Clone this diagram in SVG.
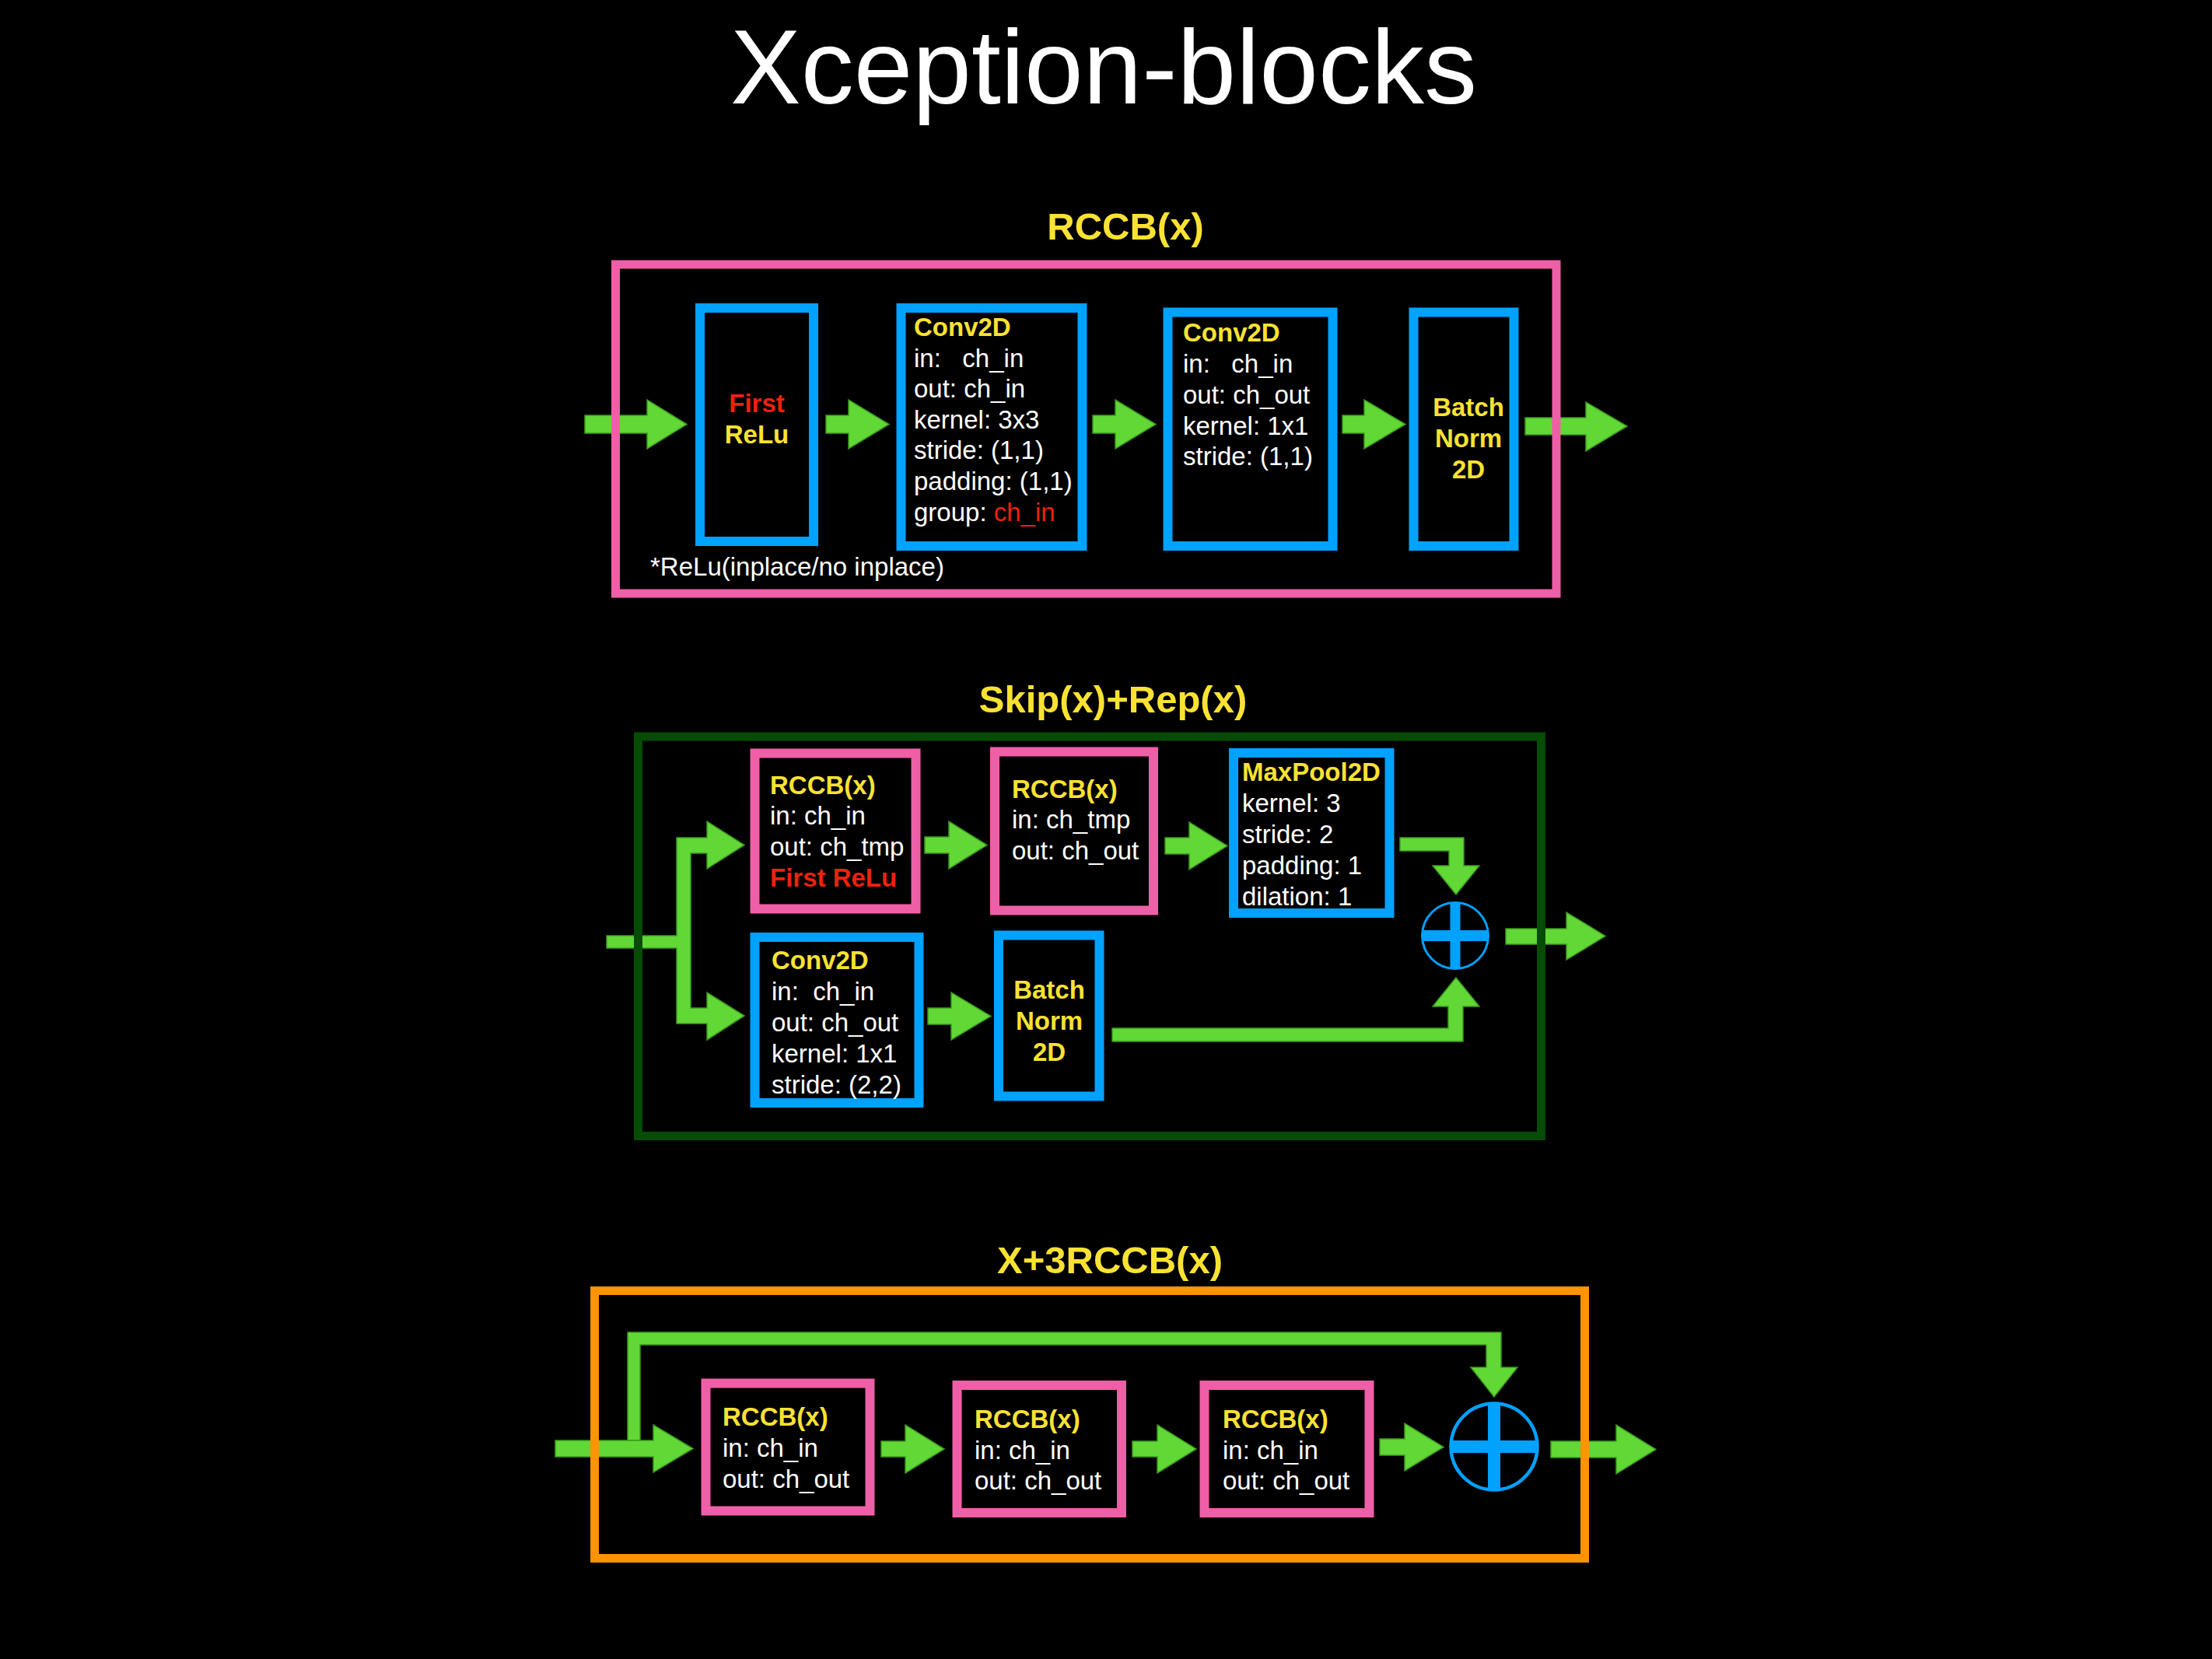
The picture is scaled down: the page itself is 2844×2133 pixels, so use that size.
<svg xmlns="http://www.w3.org/2000/svg" width="2844" height="2133" viewBox="0 0 2844 2133">
<style>
text{font-family:"Liberation Sans",Arial,Helvetica,sans-serif;}
.title{font-size:136px;fill:#ffffff;text-anchor:middle;}
.sec{font-size:49px;font-weight:bold;fill:#fae232;text-anchor:middle;}
.hd{font-size:33px;font-weight:bold;fill:#fae232;}
.hdc{font-size:33px;font-weight:bold;fill:#fae232;text-anchor:middle;}
.t{font-size:33px;fill:#ffffff;}
.red{fill:#ee220c;}
.rb{font-size:33px;font-weight:bold;fill:#ee220c;}
.arr{fill:#61d836;stroke:#3c9a1e;stroke-width:1.5;stroke-linejoin:miter;}
.blue{fill:none;stroke:#00a2ff;stroke-width:12;}
.pink{fill:none;stroke:#ef5fa7;stroke-width:12;}
.cont1{fill:none;stroke:#ef5fa7;stroke-width:11;}
.cont2{fill:none;stroke:#064c06;stroke-width:11;}
.cont3{fill:none;stroke:#ff9300;stroke-width:11;}
.plus{fill:#00a2ff;}
</style>
<rect width="2844" height="2133" fill="#000000"/>
<text class="title" x="1419" y="133">Xception-blocks</text>
<text class="sec" x="1447" y="308">RCCB(x)</text>
<text class="sec" x="1431" y="916">Skip(x)+Rep(x)</text>
<text class="sec" x="1427" y="1637">X+3RCCB(x)</text>

<g id="connectors">
  <!-- section 1 -->
  <polygon class="arr" points="752,534 832,534 832,514 883,545.5 832,577 832,557 752,557"/>
  <polygon class="arr" points="1062,534 1091,534 1091,514 1143,545.5 1091,577 1091,557 1062,557"/>
  <polygon class="arr" points="1405,534 1434,534 1434,514 1486,545.5 1434,577 1434,557 1405,557"/>
  <polygon class="arr" points="1726,534 1754,534 1754,514 1807,545.5 1754,577 1754,557 1726,557"/>
  <polygon class="arr" points="1961,537 2039,537 2039,517 2092,548 2039,580 2039,559 1961,559"/>
  <!-- section 2 -->
  <polygon class="arr" points="780,1203 870,1203 870,1077 909,1077 909,1056 957,1086.5 909,1117 909,1097 888,1097 888,1296 909,1296 909,1276 957,1306 909,1337 909,1316 870,1316 870,1219 780,1219"/>
  <polygon class="arr" points="1189,1076 1220,1076 1220,1056 1269,1086.5 1220,1117 1220,1097 1189,1097"/>
  <polygon class="arr" points="1498,1077 1529,1077 1529,1057 1578,1087.5 1529,1118 1529,1098 1498,1098"/>
  <polygon class="arr" points="1193,1296 1223,1296 1223,1276 1274,1306.5 1223,1337 1223,1317 1193,1317"/>
  <polygon class="arr" points="1800,1077 1882,1077 1882,1113 1902,1113 1872,1150 1842,1113 1863,1113 1863,1094 1800,1094"/>
  <polygon class="arr" points="1430,1322 1862,1322 1862,1294 1842,1294 1872,1257 1902,1294 1881,1294 1881,1339 1430,1339"/>
  <polygon class="arr" points="1936,1194 2014,1194 2014,1173 2064,1203.5 2014,1234 2014,1214 1936,1214"/>
  <!-- section 3 -->
  <polygon class="arr" points="807,1852 807,1713 1930,1713 1930,1758 1951,1758 1921,1796 1891,1758 1911,1758 1911,1729 823,1729 823,1852"/>
  <polygon class="arr" points="714,1852 840,1852 840,1832 891,1862.5 840,1893 840,1873 714,1873"/>
  <polygon class="arr" points="1133,1853 1164,1853 1164,1832 1214,1863 1164,1894 1164,1873 1133,1873"/>
  <polygon class="arr" points="1456,1853 1488,1853 1488,1832 1538,1863 1488,1894 1488,1873 1456,1873"/>
  <polygon class="arr" points="1774,1850 1806,1850 1806,1830 1856,1860.5 1806,1891 1806,1871 1774,1871"/>
  <polygon class="arr" points="1994,1853 2078,1853 2078,1832 2129,1863.5 2078,1895 2078,1874 1994,1874"/>
</g>

<!-- Section 1: RCCB(x) -->
<g id="rccb-container">
  <rect class="cont1" x="791.5" y="340" width="1209.5" height="423"/>
  <text class="t" x="836" y="740">*ReLu(inplace/no inplace)</text>
</g>
<g id="rccb-first-relu">
  <rect class="blue" x="900" y="396" width="146" height="300"/>
  <text class="rb" x="973" y="530" text-anchor="middle">First</text>
  <text class="hdc" x="973" y="570">ReLu</text>
</g>
<g id="rccb-conv-dw">
  <rect class="blue" x="1158.5" y="396" width="233" height="306"/>
  <text class="hd" x="1175" y="432">Conv2D</text>
  <text class="t" x="1175" y="472" xml:space="preserve">in:   ch_in</text>
  <text class="t" x="1175" y="511">out: ch_in</text>
  <text class="t" x="1175" y="551">kernel: 3x3</text>
  <text class="t" x="1175" y="590">stride: (1,1)</text>
  <text class="t" x="1175" y="630">padding: (1,1)</text>
  <text class="t" x="1175" y="670">group: <tspan class="red">ch_in</tspan></text>
</g>
<g id="rccb-conv-pw">
  <rect class="blue" x="1501.5" y="401.5" width="212" height="300.5"/>
  <text class="hd" x="1521" y="439">Conv2D</text>
  <text class="t" x="1521" y="479" xml:space="preserve">in:   ch_in</text>
  <text class="t" x="1521" y="519">out: ch_out</text>
  <text class="t" x="1521" y="559">kernel: 1x1</text>
  <text class="t" x="1521" y="598">stride: (1,1)</text>
</g>
<g id="rccb-bn">
  <rect class="blue" x="1817.5" y="401.5" width="129" height="300.5"/>
  <text class="hdc" x="1888" y="535">Batch</text>
  <text class="hdc" x="1888" y="575">Norm</text>
  <text class="hdc" x="1888" y="615">2D</text>
</g>

<!-- Section 2: Skip(x)+Rep(x) -->
<g id="skip-container">
  <rect class="cont2" x="820.5" y="947" width="1161" height="513.5"/>
</g>
<g id="skip-rccb1">
  <rect class="pink" x="970.5" y="968.5" width="207" height="200"/>
  <text class="hd" x="990" y="1021">RCCB(x)</text>
  <text class="t" x="990" y="1060">in: ch_in</text>
  <text class="t" x="990" y="1100">out: ch_tmp</text>
  <text class="rb" x="990" y="1140">First ReLu</text>
</g>
<g id="skip-rccb2">
  <rect class="pink" x="1279" y="966.5" width="204" height="204"/>
  <text class="hd" x="1301" y="1026">RCCB(x)</text>
  <text class="t" x="1301" y="1065">in: ch_tmp</text>
  <text class="t" x="1301" y="1105">out: ch_out</text>
</g>
<g id="skip-maxpool">
  <rect class="blue" x="1586" y="968" width="200.5" height="206"/>
  <text class="hd" x="1597" y="1004">MaxPool2D</text>
  <text class="t" x="1597" y="1044">kernel: 3</text>
  <text class="t" x="1597" y="1084">stride: 2</text>
  <text class="t" x="1597" y="1124">padding: 1</text>
  <text class="t" x="1597" y="1164">dilation: 1</text>
</g>
<g id="skip-conv">
  <rect class="blue" x="970.5" y="1205" width="211" height="213"/>
  <text class="hd" x="992" y="1246">Conv2D</text>
  <text class="t" x="992" y="1286" xml:space="preserve">in:  ch_in</text>
  <text class="t" x="992" y="1326">out: ch_out</text>
  <text class="t" x="992" y="1366">kernel: 1x1</text>
  <text class="t" x="992" y="1406">stride: (2,2)</text>
</g>
<g id="skip-bn">
  <rect class="blue" x="1284" y="1202.5" width="129.5" height="207"/>
  <text class="hdc" x="1349" y="1284">Batch</text>
  <text class="hdc" x="1349" y="1324">Norm</text>
  <text class="hdc" x="1349" y="1364">2D</text>
</g>
<g id="skip-add">
  <circle cx="1871" cy="1203" r="42.5" fill="none" stroke="#00a2ff" stroke-width="3"/>
  <rect class="plus" x="1828" y="1196" width="86" height="14"/>
  <rect class="plus" x="1864.5" y="1160" width="13" height="86"/>
</g>

<!-- Section 3: X+3RCCB(x) -->
<g id="x3-container">
  <rect class="cont3" x="764.5" y="1659.5" width="1273" height="344"/>
</g>
<g id="x3-rccb1">
  <rect class="pink" x="907.5" y="1778.5" width="211" height="164"/>
  <text class="hd" x="929" y="1833">RCCB(x)</text>
  <text class="t" x="929" y="1873">in: ch_in</text>
  <text class="t" x="929" y="1913">out: ch_out</text>
</g>
<g id="x3-rccb2">
  <rect class="pink" x="1230.5" y="1781" width="211.5" height="164"/>
  <text class="hd" x="1253" y="1836">RCCB(x)</text>
  <text class="t" x="1253" y="1876">in: ch_in</text>
  <text class="t" x="1253" y="1915">out: ch_out</text>
</g>
<g id="x3-rccb3">
  <rect class="pink" x="1548.5" y="1781" width="212" height="164"/>
  <text class="hd" x="1572" y="1836">RCCB(x)</text>
  <text class="t" x="1572" y="1876">in: ch_in</text>
  <text class="t" x="1572" y="1915">out: ch_out</text>
</g>
<g id="x3-add">
  <circle cx="1921" cy="1860" r="55.5" fill="none" stroke="#00a2ff" stroke-width="4.5"/>
  <rect class="plus" x="1864" y="1852" width="114" height="16"/>
  <rect class="plus" x="1913" y="1803" width="16" height="114"/>
</g>
</svg>
